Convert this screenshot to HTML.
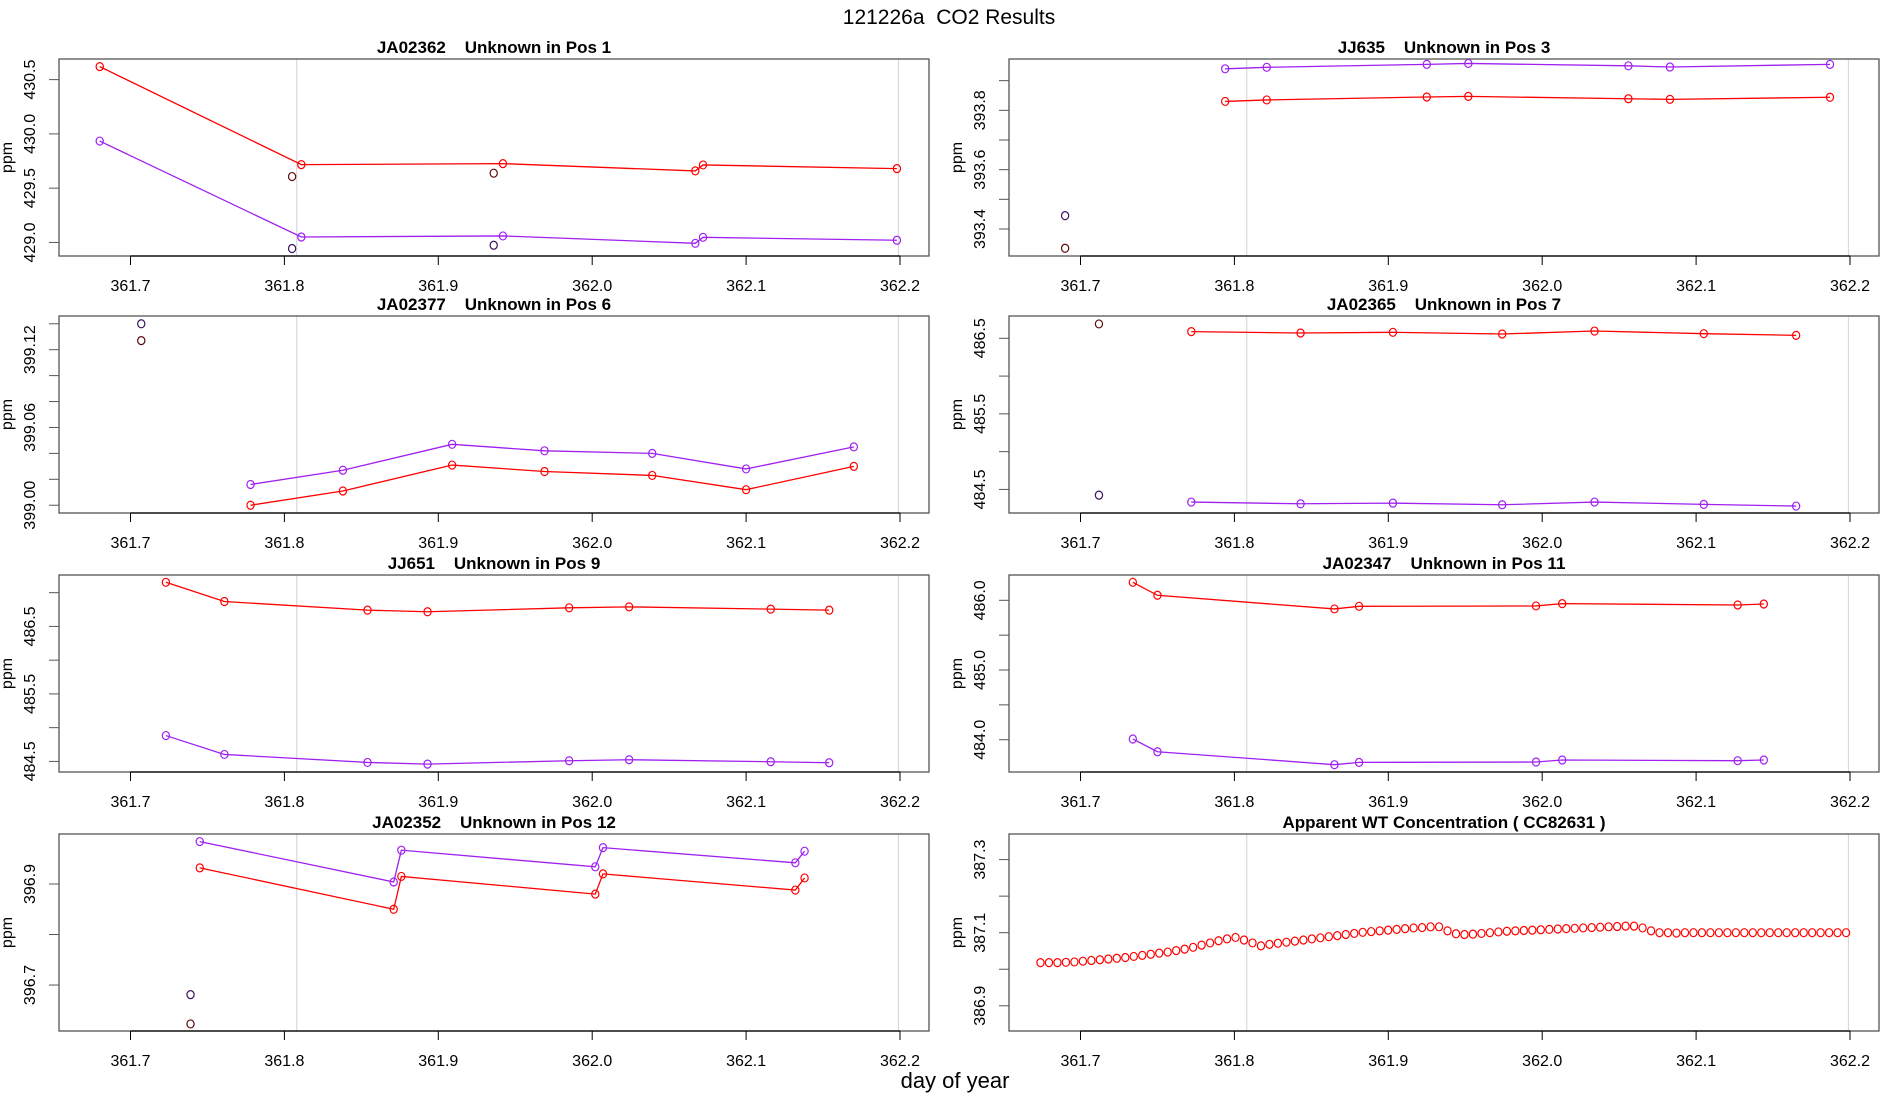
<!DOCTYPE html>
<html><head><meta charset="utf-8"><style>
html,body{margin:0;padding:0;background:#fff;}
svg{display:block;font-family:"Liberation Sans",Arial,sans-serif;}
</style></head><body>
<svg id="chart" width="1900" height="1100" viewBox="0 0 1900 1100">
<text x="949" y="24" font-size="21" text-anchor="middle" fill="#000" xml:space="preserve" style="white-space:pre">121226a  CO2 Results</text>
<text x="955" y="1088" font-size="22" text-anchor="middle" fill="#000">day of year</text>
</svg>
<script>
// ---- data ----
const xTickVals = [361.7, 361.8, 361.9, 362.0, 362.1, 362.2];
const xTickLabels = ["361.7", "361.8", "361.9", "362.0", "362.1", "362.2"];
const refLines = [361.808, 362.199];

// Panel 1: JA02362
const p1Red = [[361.680,430.62],[361.811,429.717],[361.942,429.726],[362.067,429.659],[362.072,429.714],[362.198,429.68]];
const p1Purple = [[361.680,429.934],[361.811,429.05],[361.942,429.06],[362.067,428.992],[362.072,429.047],[362.198,429.02]];
const p1DarkRed = [[361.805,429.607],[361.936,429.638]];
const p1DarkPurple = [[361.805,428.944],[361.936,428.974]];
const p1Ticks = [429.0, 429.5, 430.0, 430.5];
const p1Labels = ["429.0", "429.5", "430.0", "430.5"];

// Panel 2: JJ635
const p2Red = [[361.794,393.83],[361.821,393.835],[361.925,393.845],[361.952,393.847],[362.056,393.839],[362.083,393.837],[362.187,393.844]];
const p2Purple = [[361.794,393.94],[361.821,393.945],[361.925,393.955],[361.952,393.958],[362.056,393.95],[362.083,393.946],[362.187,393.955]];
const p2DarkRed = [[361.690,393.335]];
const p2DarkPurple = [[361.690,393.445]];
const p2Ticks = [393.4, 393.5, 393.6, 393.7, 393.8, 393.9];
const p2Labels = ["393.4", "", "393.6", "", "393.8", ""];

// Panel 3: JA02377
const p3Red = [[361.778,399.0],[361.838,399.011],[361.909,399.031],[361.969,399.026],[362.039,399.023],[362.100,399.012],[362.170,399.030]];
const p3Purple = [[361.778,399.016],[361.838,399.027],[361.909,399.047],[361.969,399.042],[362.039,399.040],[362.100,399.028],[362.170,399.045]];
const p3DarkRed = [[361.707,399.127]];
const p3DarkPurple = [[361.707,399.140]];
const p3Ticks = [399.00, 399.02, 399.04, 399.06, 399.08, 399.10, 399.12, 399.14];
const p3Labels = ["399.00", "", "", "399.06", "", "", "399.12", ""];

// Panel 4: JA02365
const p4Red = [[361.772,486.588],[361.843,486.570],[361.903,486.579],[361.974,486.557],[362.034,486.596],[362.105,486.561],[362.165,486.539]];
const p4Purple = [[361.772,484.333],[361.843,484.310],[361.903,484.319],[361.974,484.297],[362.034,484.333],[362.105,484.302],[362.165,484.28]];
const p4DarkRed = [[361.712,486.69]];
const p4DarkPurple = [[361.712,484.425]];
const p4Ticks = [484.5, 485.0, 485.5, 486.0, 486.5];
const p4Labels = ["484.5", "", "485.5", "", "486.5"];

// Panel 5: JJ651
const p5Red = [[361.723,487.154],[361.761,486.869],[361.854,486.741],[361.893,486.717],[361.985,486.776],[362.024,486.790],[362.116,486.756],[362.154,486.741]];
const p5Purple = [[361.723,484.883],[361.761,484.603],[361.854,484.485],[361.893,484.460],[361.985,484.510],[362.024,484.525],[362.116,484.495],[362.154,484.48]];
const p5Ticks = [484.5, 485.0, 485.5, 486.0, 486.5, 487.0];
const p5Labels = ["484.5", "", "485.5", "", "486.5", ""];

// Panel 6: JA02347
const p6Red = [[361.734,486.258],[361.750,486.072],[361.865,485.876],[361.881,485.914],[361.996,485.919],[362.013,485.952],[362.127,485.933],[362.144,485.947]];
const p6Purple = [[361.734,484.01],[361.750,483.828],[361.865,483.642],[361.881,483.675],[361.996,483.680],[362.013,483.709],[362.127,483.699],[362.144,483.709]];
const p6Ticks = [484.0, 484.5, 485.0, 485.5, 486.0];
const p6Labels = ["484.0", "", "485.0", "", "486.0"];

// Panel 7: JA02352
const p7Red = [[361.745,396.932],[361.871,396.850],[361.876,396.915],[362.002,396.880],[362.007,396.920],[362.132,396.888],[362.138,396.912]];
const p7Purple = [[361.745,396.984],[361.871,396.904],[361.876,396.967],[362.002,396.934],[362.007,396.972],[362.132,396.942],[362.138,396.965]];
const p7DarkRed = [[361.739,396.623]];
const p7DarkPurple = [[361.739,396.681]];
const p7Ticks = [396.7, 396.8, 396.9];
const p7Labels = ["396.7", "", "396.9"];

// Panel 8: Apparent WT concentration
const wtStart = 361.674;
const wtStep = 0.00551;
const wtValues = [387.018,387.018,387.018,387.019,387.020,387.022,387.024,387.026,387.028,387.030,387.032,387.035,387.038,387.041,387.044,387.047,387.051,387.055,387.060,387.066,387.072,387.078,387.083,387.087,
387.080,387.072,387.064,387.068,387.071,387.074,387.077,387.080,387.083,387.086,387.089,387.092,387.095,387.098,387.101,387.103,387.105,387.107,387.109,387.111,387.113,387.114,387.116,387.116,
387.105,387.097,387.095,387.096,387.098,387.100,387.102,387.104,387.105,387.106,387.107,387.108,387.109,387.110,387.111,387.112,387.113,387.114,387.115,387.116,387.117,387.118,387.118,387.113,387.105,387.100,
387.100,387.099,387.100,387.100,387.100,387.100,387.100,387.100,387.100,387.100,387.100,387.100,387.100,387.100,387.100,387.100,387.100,387.100,387.100,387.100,387.100,387.100];
const p8Ticks = [386.9, 387.0, 387.1, 387.2, 387.3];
const p8Labels = ["386.9", "", "387.1", "", "387.3"];

// ---- rendering ----
const NS = "http://www.w3.org/2000/svg";
const svg = document.getElementById("chart");
function mk(tag, attrs, parent) {
  const e = document.createElementNS(NS, tag);
  for (const k in attrs) e.setAttribute(k, attrs[k]);
  (parent || svg).appendChild(e);
  return e;
}
const RED = "#ff0000", PURPLE = "#a020f0", DRED = "#5a0a0a", DPURPLE = "#3a1260";

function panel(cfg) {
  const g = mk("g", {});
  
  
  const L = cfg.left, T = cfg.top, W = 870, H = 197;
  const x0 = L + 71.5;
  const xs = v => x0 + (v - 361.7) * 1539;
  const ys = v => T + H - (v - cfg.ymin) / (cfg.ymax - cfg.ymin) * H;
  refLines.forEach(r => {
    const l = mk("line", {x1: xs(r), x2: xs(r), y1: T, y2: T + H, stroke: "#d9d9d9", "stroke-width": 1.2}, g);
    
    
  });
  const box = mk("rect", {x: L, y: T, width: W, height: H, fill: "none", stroke: "#555", "stroke-width": 1.3}, g);
  
  
  const t = mk("text", {x: L + W / 2, y: T - 6, "font-size": 17, "font-weight": "bold", "text-anchor": "middle", style: "white-space:pre"}, g);
  t.textContent = cfg.title;
  
  
  const ax = mk("line", {x1: xs(xTickVals[0]), x2: xs(xTickVals[xTickVals.length - 1]), y1: T + H, y2: T + H, stroke: "#000", "stroke-width": 1.3}, g);
  
  
  xTickVals.forEach((v, i) => {
    const tk = mk("line", {x1: xs(v), x2: xs(v), y1: T + H, y2: T + H + 9, stroke: "#000", "stroke-width": 1}, g);
    
    
    const tl = mk("text", {x: xs(v), y: T + H + 35, "font-size": 16, "text-anchor": "middle"}, g);
    tl.textContent = xTickLabels[i];
    
    
  });
  cfg.ticks.forEach((v, i) => {
    const tk = mk("line", {x1: L - 10, x2: L, y1: ys(v), y2: ys(v), stroke: "#555", "stroke-width": 1}, g);
    
    
    if (cfg.labels[i]) {
      const tl = mk("text", {x: L - 24, y: ys(v), "font-size": 16, "text-anchor": "middle", transform: `rotate(-90 ${L - 24} ${ys(v)})`}, g);
      tl.textContent = cfg.labels[i];
      
      
    }
  });
  const yl = mk("text", {x: L - 47, y: T + H / 2, "font-size": 16, "text-anchor": "middle", transform: `rotate(-90 ${L - 47} ${T + H / 2})`}, g);
  yl.textContent = "ppm";
  
  
  cfg.series.forEach(s => {
    if (s.line) {
      const pl = mk("polyline", {points: s.data.map(p => xs(p[0]) + "," + ys(p[1])).join(" "), fill: "none", stroke: s.color, "stroke-width": 1.3}, g);
      
      
    }
    s.data.forEach(p => {
      const c = mk("ellipse", {cx: xs(p[0]), cy: ys(p[1]), rx: 3.6, ry: 4, fill: "none", stroke: s.color, "stroke-width": 1.2}, g);
      
      
    });
  });
}

const LX = 59, RX = 1009;
const ROWS = [59, 316, 575, 834];
panel({name: "panel-ja02362", title: "JA02362    Unknown in Pos 1", left: LX, top: ROWS[0], ymin: 428.875, ymax: 430.69, ticks: p1Ticks, labels: p1Labels,
  series: [{name: "red", color: RED, line: true, data: p1Red}, {name: "purple", color: PURPLE, line: true, data: p1Purple}, {name: "dark-red", color: DRED, data: p1DarkRed}, {name: "dark-purple", color: DPURPLE, data: p1DarkPurple}]});
panel({name: "panel-jj635", title: "JJ635    Unknown in Pos 3", left: RX, top: ROWS[0], ymin: 393.309, ymax: 393.973, ticks: p2Ticks, labels: p2Labels,
  series: [{name: "red", color: RED, line: true, data: p2Red}, {name: "purple", color: PURPLE, line: true, data: p2Purple}, {name: "dark-red", color: DRED, data: p2DarkRed}, {name: "dark-purple", color: DPURPLE, data: p2DarkPurple}]});
panel({name: "panel-ja02377", title: "JA02377    Unknown in Pos 6", left: LX, top: ROWS[1], ymin: 398.994, ymax: 399.146, ticks: p3Ticks, labels: p3Labels,
  series: [{name: "red", color: RED, line: true, data: p3Red}, {name: "purple", color: PURPLE, line: true, data: p3Purple}, {name: "dark-red", color: DRED, data: p3DarkRed}, {name: "dark-purple", color: DPURPLE, data: p3DarkPurple}]});
panel({name: "panel-ja02365", title: "JA02365    Unknown in Pos 7", left: RX, top: ROWS[1], ymin: 484.188, ymax: 486.795, ticks: p4Ticks, labels: p4Labels,
  series: [{name: "red", color: RED, line: true, data: p4Red}, {name: "purple", color: PURPLE, line: true, data: p4Purple}, {name: "dark-red", color: DRED, data: p4DarkRed}, {name: "dark-purple", color: DPURPLE, data: p4DarkPurple}]});
panel({name: "panel-jj651", title: "JJ651    Unknown in Pos 9", left: LX, top: ROWS[2], ymin: 484.343, ymax: 487.262, ticks: p5Ticks, labels: p5Labels,
  series: [{name: "red", color: RED, line: true, data: p5Red}, {name: "purple", color: PURPLE, line: true, data: p5Purple}]});
panel({name: "panel-ja02347", title: "JA02347    Unknown in Pos 11", left: RX, top: ROWS[2], ymin: 483.537, ymax: 486.363, ticks: p6Ticks, labels: p6Labels,
  series: [{name: "red", color: RED, line: true, data: p6Red}, {name: "purple", color: PURPLE, line: true, data: p6Purple}]});
panel({name: "panel-ja02352", title: "JA02352    Unknown in Pos 12", left: LX, top: ROWS[3], ymin: 396.609, ymax: 396.999, ticks: p7Ticks, labels: p7Labels,
  series: [{name: "red", color: RED, line: true, data: p7Red}, {name: "purple", color: PURPLE, line: true, data: p7Purple}, {name: "dark-red", color: DRED, data: p7DarkRed}, {name: "dark-purple", color: DPURPLE, data: p7DarkPurple}]});
panel({name: "panel-wt-concentration", title: "Apparent WT Concentration ( CC82631 )", left: RX, top: ROWS[3], ymin: 386.831, ymax: 387.370, ticks: p8Ticks, labels: p8Labels,
  series: [{name: "wt", color: RED, data: wtValues.map((v, i) => [wtStart + i * wtStep, v])}]});
</script>
</body></html>
